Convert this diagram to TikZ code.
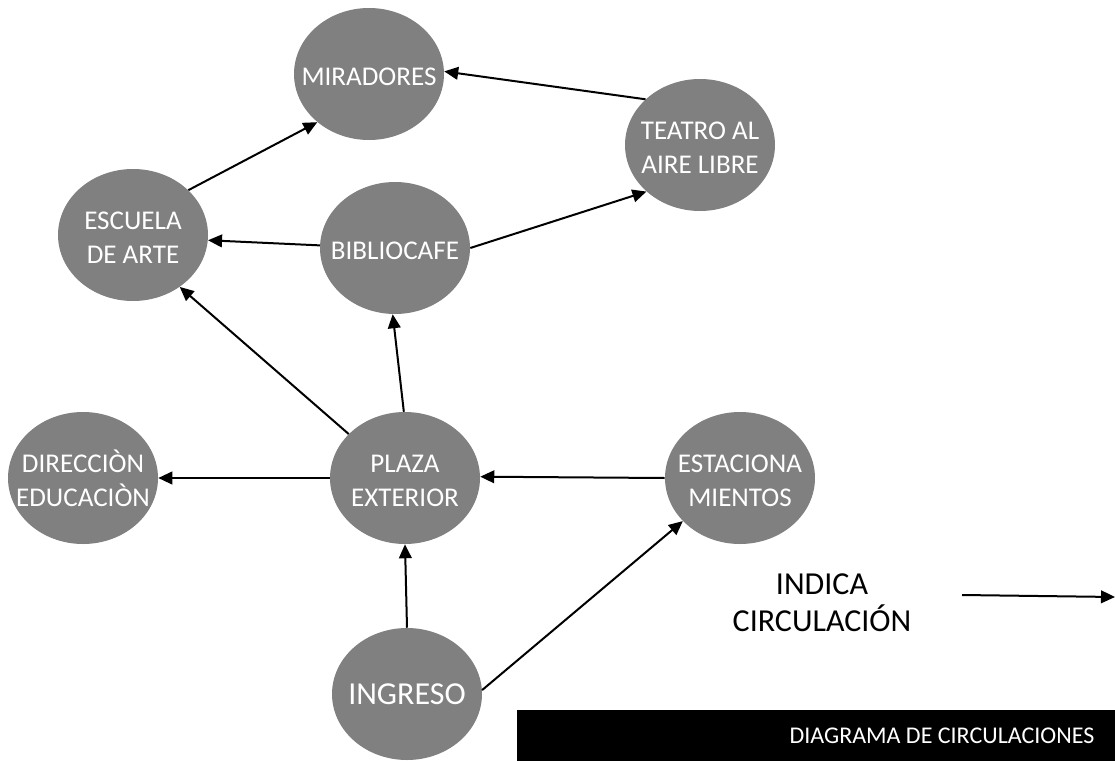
\documentclass[tikz,border=0pt]{standalone}
\usepackage{fontspec}
\setmainfont{Carlito}
\usetikzlibrary{shapes.geometric,arrows.meta}
\newcommand{\zl}[1]{\makebox[0pt]{\raisebox{-8.8pt}[0pt][0pt]{\begin{tabular}{@{}c@{}}#1\end{tabular}}}}
\begin{document}
\begin{tikzpicture}[x=0.75pt,y=-0.75pt,
  zone/.style={ellipse, fill=gray50, minimum width=112.5pt, minimum height=99pt, inner sep=0pt,
    text=white, font=\fontsize{20.3}{25}\selectfont},
  flow/.style={line width=1.5pt, -{Triangle[length=10.5pt,width=9.5pt]}},
]
\definecolor{gray50}{HTML}{808080}
\useasboundingbox (0,0) rectangle (1115,761);
\node[zone] (mir) at (369,74) {\zl{MIRADORES}};
\node[zone] (tea) at (700,145) {\zl{TEATRO AL\\AIRE LIBRE}};
\node[zone] (esc) at (133,235) {\zl{ESCUELA\\DE ARTE}};
\node[zone] (bib) at (395,248) {\zl{BIBLIOCAFE}};
\node[zone] (dir) at (83,478) {\zl{DIRECCIÒN\\EDUCACIÒN}};
\node[zone] (pla) at (405,478) {\zl{PLAZA\\EXTERIOR}};
\node[zone] (est) at (740,478) {\zl{ESTACIONA\\MIENTOS}};
\node[zone, font=\fontsize{24}{28}\selectfont] (ing) at (407,694) {\zl{INGRESO}};

\draw[flow] (tea.140) -- (mir.2);
\draw[flow] (esc.39) -- (mir.223);
\draw[flow] (bib.178) -- (esc.356);
\draw[flow] (bib.0) -- (tea.221);
\draw[flow] (pla.142) -- (esc.312);
\draw[flow] (pla.91) -- (bib.268);
\draw[flow] (pla.180) -- (dir.0);
\draw[flow] (est.180) -- (pla.1);
\draw[flow] (ing.90) -- (pla.270);
\draw[flow] (ing.3) -- (est.217);

\node[align=center, font=\fontsize{24}{28}\selectfont] (leg) at (822,603) {INDICA\\CIRCULACIÓN};
\coordinate (l1) at (962,595);
\coordinate (l2) at (1115,597);
\draw[flow] (l1) -- (l2);

\node[fill=black, minimum width=448.5pt, minimum height=38.25pt, inner sep=0pt, anchor=north west] (bar) at (517,710) {};
\node[text=white, font=\fontsize{18}{21}\selectfont, anchor=east] (title) at (1099,736) {DIAGRAMA DE CIRCULACIONES};
\end{tikzpicture}
\end{document}
